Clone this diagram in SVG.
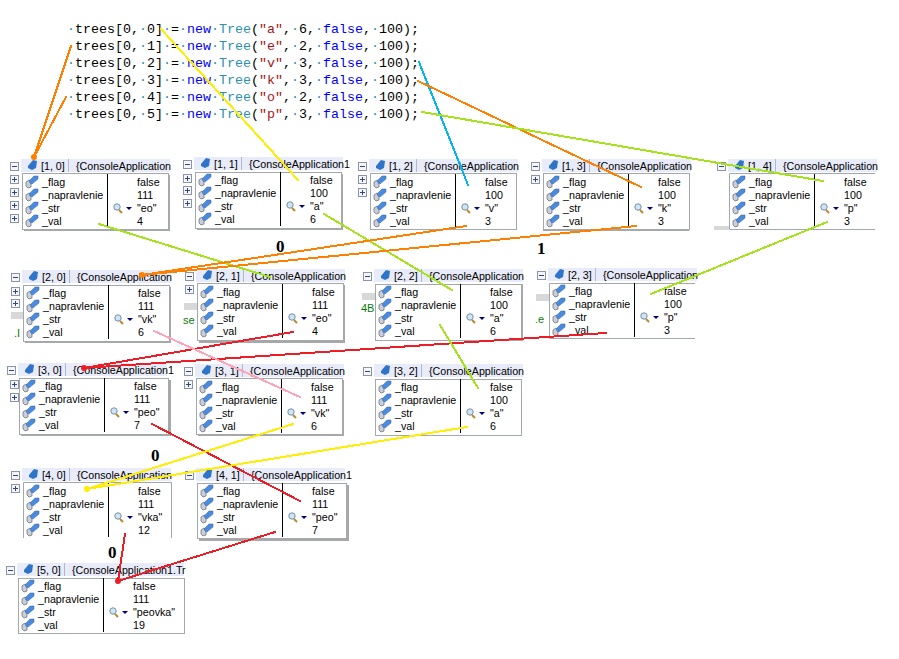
<svg xmlns="http://www.w3.org/2000/svg" width="899" height="659" viewBox="0 0 899 659">
<style>
text{font-family:"Liberation Sans",Arial,sans-serif;font-size:10.7px;fill:#000}
.c{font-family:"Liberation Mono","Courier New",monospace;font-size:13.33px;white-space:pre}
.d{fill:#2b91af}.k{fill:#0000ff}.y{fill:#2b91af}.s{fill:#a31515}
.b{fill:#fff;stroke:#a3a8ae;stroke-width:1}
.o{fill:none;stroke:#a3a8ae;stroke-width:1}
.sh{fill:#a8a8a8}
.bar{fill:#d8d8d8}
.g{fill:#0a7a0a;font-size:11px}
.n{font-family:"Liberation Serif","Times New Roman",serif;font-size:17px;font-weight:bold}
.l{fill:none;stroke-linecap:round;shape-rendering:crispEdges}
.or{stroke:#ff8000;stroke-width:2}.ye{stroke:#ffee00;stroke-width:2}.li{stroke:#a4e21a;stroke-width:2}
.re{stroke:#ee1c25;stroke-width:2}.cy{stroke:#00b4f0;stroke-width:2}.pi{stroke:#ffa3b8;stroke-width:2}
</style>
<defs>
<symbol id="ic" width="14" height="13" overflow="visible">
<path d="M1 7L4 5L6 6.500L6 12L3 13L1 11Z" fill="#c9ced8" stroke="#5e6470" stroke-width=".7"/>
<path d="M4 6L9 1L13 1L13 4L7 9L5 8Z" fill="#4a8be0" stroke="#3a5f9a" stroke-width=".5"/>
</symbol>
<symbol id="plus" width="9" height="9" overflow="visible">
<rect x=".5" y=".5" width="8" height="8" fill="#f4f6fb" stroke="#8a94a6"/>
<path d="M2 4.5H7M4.5 2V7" stroke="#31487a"/>
</symbol>
<symbol id="minus" width="9" height="9" overflow="visible">
<rect x=".5" y=".5" width="8" height="8" fill="#f4f6fb" stroke="#8a94a6"/>
<path d="M2 4.5H7" stroke="#31487a"/>
</symbol>
<g id="frame">
<rect x="-1" y="-14" width="149" height="13" fill="#e8ebf9"/>
<use href="#minus" x="-12" y="-11"/>
<path d="M6 -7 L11 -13 L15 -12 L14 -5 L10 -3 L6 -5Z" fill="#2f74c8"/>
<path d="M46.5 -14V-1" stroke="#b5b8c4"/>
</g>
<g id="rows">
<use href="#ic" x="3" y="2"/><use href="#ic" x="3" y="15"/><use href="#ic" x="3" y="28"/><use href="#ic" x="3" y="41"/>
<path d="M85.5 1V55" stroke="#000"/>
<circle cx="95" cy="34" r="3.200" fill="#cfe4f4" stroke="#7890a8"/><path d="M97 37L100 40" stroke="#b98a2a" stroke-width="2"/>
<path d="M104 34H110L107 37Z" fill="#000080"/>
</g>
</defs>

<g id="code">
<text class="c" x="67" y="33"><tspan class="d">·</tspan>trees[0,<tspan class="d">·</tspan>0]<tspan class="d">·</tspan>=<tspan class="d">·</tspan><tspan class="k">new</tspan><tspan class="d">·</tspan><tspan class="y">Tree</tspan>(<tspan class="s">"a"</tspan>,<tspan class="d">·</tspan>6,<tspan class="d">·</tspan><tspan class="k">false</tspan>,<tspan class="d">·</tspan>100);</text>
<text class="c" x="67" y="50"><tspan class="d">·</tspan>trees[0,<tspan class="d">·</tspan>1]<tspan class="d">·</tspan>=<tspan class="d">·</tspan><tspan class="k">new</tspan><tspan class="d">·</tspan><tspan class="y">Tree</tspan>(<tspan class="s">"e"</tspan>,<tspan class="d">·</tspan>2,<tspan class="d">·</tspan><tspan class="k">false</tspan>,<tspan class="d">·</tspan>100);</text>
<text class="c" x="67" y="67"><tspan class="d">·</tspan>trees[0,<tspan class="d">·</tspan>2]<tspan class="d">·</tspan>=<tspan class="d">·</tspan><tspan class="k">new</tspan><tspan class="d">·</tspan><tspan class="y">Tree</tspan>(<tspan class="s">"v"</tspan>,<tspan class="d">·</tspan>3,<tspan class="d">·</tspan><tspan class="k">false</tspan>,<tspan class="d">·</tspan>100);</text>
<text class="c" x="67" y="84"><tspan class="d">·</tspan>trees[0,<tspan class="d">·</tspan>3]<tspan class="d">·</tspan>=<tspan class="d">·</tspan><tspan class="k">new</tspan><tspan class="d">·</tspan><tspan class="y">Tree</tspan>(<tspan class="s">"k"</tspan>,<tspan class="d">·</tspan>3,<tspan class="d">·</tspan><tspan class="k">false</tspan>,<tspan class="d">·</tspan>100);</text>
<text class="c" x="67" y="101"><tspan class="d">·</tspan>trees[0,<tspan class="d">·</tspan>4]<tspan class="d">·</tspan>=<tspan class="d">·</tspan><tspan class="k">new</tspan><tspan class="d">·</tspan><tspan class="y">Tree</tspan>(<tspan class="s">"o"</tspan>,<tspan class="d">·</tspan>2,<tspan class="d">·</tspan><tspan class="k">false</tspan>,<tspan class="d">·</tspan>100);</text>
<text class="c" x="67" y="118"><tspan class="d">·</tspan>trees[0,<tspan class="d">·</tspan>5]<tspan class="d">·</tspan>=<tspan class="d">·</tspan><tspan class="k">new</tspan><tspan class="d">·</tspan><tspan class="y">Tree</tspan>(<tspan class="s">"p"</tspan>,<tspan class="d">·</tspan>3,<tspan class="d">·</tspan><tspan class="k">false</tspan>,<tspan class="d">·</tspan>100);</text>
</g>

<g id="n1-0" transform="translate(22,173)"><rect class="sh" x="2" y="2" width="146" height="56"/><use href="#frame"/><use href="#plus" x="-12" y="2"/><use href="#plus" x="-12" y="15"/><use href="#plus" x="-12" y="28"/><use href="#plus" x="-12" y="41"/><rect class="b" x=".5" y=".5" width="146" height="56"/><use href="#rows"/><text x="19" y="-3">[1, 0]</text><text x="54" y="-3">{ConsoleApplication</text><text x="20" y="13">_flag</text><text x="20" y="26">_napravlenie</text><text x="20" y="39">_str</text><text x="20" y="52">_val</text><text x="115" y="13">false</text><text x="115" y="26">111</text><text x="115" y="39">"eo"</text><text x="115" y="52">4</text></g>

<g id="n1-1" transform="translate(195,171)"><rect class="sh" x="2" y="3" width="146" height="56"/><use href="#frame"/><use href="#plus" x="-12" y="3"/><use href="#plus" x="-12" y="15"/><use href="#plus" x="-12" y="28"/><rect class="b" x=".5" y="1.5" width="146" height="56"/><use href="#rows"/><text x="19" y="-3">[1, 1]</text><text x="54" y="-3">{ConsoleApplication1</text><text x="20" y="13">_flag</text><text x="20" y="26">_napravlenie</text><text x="20" y="39">_str</text><text x="20" y="52">_val</text><text x="115" y="13">false</text><text x="115" y="26">100</text><text x="115" y="39">"a"</text><text x="115" y="52">6</text></g>

<g id="n1-2" transform="translate(370,173)"><use href="#frame"/><use href="#plus" x="-12" y="2"/><use href="#plus" x="-12" y="15"/><rect class="b" x=".5" y=".5" width="146" height="56"/><use href="#rows"/><text x="19" y="-3">[1, 2]</text><text x="54" y="-3">{ConsoleApplication</text><text x="20" y="13">_flag</text><text x="20" y="26">_napravlenie</text><text x="20" y="39">_str</text><text x="20" y="52">_val</text><text x="115" y="13">false</text><text x="115" y="26">100</text><text x="115" y="39">"v"</text><text x="115" y="52">3</text></g>

<g id="n1-3" transform="translate(543,173)"><rect class="sh" x="0" y="2" width="146" height="56"/><use href="#frame"/><use href="#plus" x="-12" y="2"/><rect class="b" x=".5" y=".5" width="146" height="56"/><use href="#rows"/><text x="19" y="-3">[1, 3]</text><text x="54" y="-3">{ConsoleApplication</text><text x="20" y="13">_flag</text><text x="20" y="26">_napravlenie</text><text x="20" y="39">_str</text><text x="20" y="52">_val</text><text x="115" y="13">false</text><text x="115" y="26">100</text><text x="115" y="39">"k"</text><text x="115" y="52">3</text></g>

<g id="n1-4" transform="translate(729,173)"><rect class="bar" x="-15" y="53" width="15" height="4"/><use href="#frame"/><path class="o" d="M146 .5H.5V56.500H146"/><use href="#rows"/><text x="19" y="-3">[1, 4]</text><text x="54" y="-3">{ConsoleApplication</text><text x="20" y="13">_flag</text><text x="20" y="26">_napravlenie</text><text x="20" y="39">_str</text><text x="20" y="52">_val</text><text x="115" y="13">false</text><text x="115" y="26">100</text><text x="115" y="39">"p"</text><text x="115" y="52">3</text></g>

<g id="n2-0" transform="translate(23,284)"><rect class="bar" x="-12" y="28" width="14" height="7"/><text class="g" x="-9" y="53">.I</text><rect class="sh" x="2" y="3" width="146" height="56"/><use href="#frame"/><use href="#plus" x="-12" y="3"/><use href="#plus" x="-12" y="15"/><rect class="b" x=".5" y="1.5" width="146" height="56"/><use href="#rows"/><text x="19" y="-3">[2, 0]</text><text x="54" y="-3">{ConsoleApplication</text><text x="20" y="13">_flag</text><text x="20" y="26">_napravlenie</text><text x="20" y="39">_str</text><text x="20" y="52">_val</text><text x="115" y="13">false</text><text x="115" y="26">111</text><text x="115" y="39">"vk"</text><text x="115" y="52">6</text></g>

<g id="n2-1" transform="translate(197,283)"><rect class="bar" x="-13" y="20" width="14" height="7"/><text class="g" x="-14" y="41">se</text><rect class="sh" x="2" y="2" width="146" height="58"/><use href="#frame"/><use href="#plus" x="-12" y="2"/><rect class="b" x=".5" y=".5" width="146" height="57"/><use href="#rows"/><text x="19" y="-3">[2, 1]</text><text x="54" y="-3">{ConsoleApplication</text><text x="20" y="13">_flag</text><text x="20" y="26">_napravlenie</text><text x="20" y="39">_str</text><text x="20" y="52">_val</text><text x="115" y="13">false</text><text x="115" y="26">111</text><text x="115" y="39">"eo"</text><text x="115" y="52">4</text></g>

<g id="n2-2" transform="translate(375,283)"><rect class="bar" x="-13" y="10" width="14" height="7"/><text class="g" x="-14" y="29">4B</text><rect class="sh" x="2" y="1" width="146" height="57"/><use href="#frame"/><rect class="b" x=".5" y="1.5" width="146" height="56"/><use href="#rows"/><text x="19" y="-3">[2, 2]</text><text x="54" y="-3">{ConsoleApplication</text><text x="20" y="13">_flag</text><text x="20" y="26">_napravlenie</text><text x="20" y="39">_str</text><text x="20" y="52">_val</text><text x="115" y="13">false</text><text x="115" y="26">100</text><text x="115" y="39">"a"</text><text x="115" y="52">6</text></g>

<g id="n2-3" transform="translate(549,282)"><rect class="bar" x="-13" y="12" width="14" height="7"/><text class="g" x="-14" y="41">.e</text><use href="#frame"/><path class="o" d="M146 1.500H.5V56.500H146"/><use href="#rows"/><text x="19" y="-3">[2, 3]</text><text x="54" y="-3">{ConsoleApplication</text><text x="20" y="13">_flag</text><text x="20" y="26">_napravlenie</text><text x="20" y="39">_str</text><text x="20" y="52">_val</text><text x="115" y="13">false</text><text x="115" y="26">100</text><text x="115" y="39">"p"</text><text x="115" y="52">3</text></g>

<g id="n3-0" transform="translate(19,377)"><rect class="sh" x="2" y="3" width="150" height="56"/><use href="#frame"/><use href="#plus" x="-9" y="3"/><use href="#plus" x="-9" y="16"/><rect class="b" x=".5" y="1.5" width="149" height="56"/><use href="#rows"/><text x="19" y="-3">[3, 0]</text><text x="54" y="-3">{ConsoleApplication1</text><text x="20" y="13">_flag</text><text x="20" y="26">_napravlenie</text><text x="20" y="39">_str</text><text x="20" y="52">_val</text><text x="115" y="13">false</text><text x="115" y="26">111</text><text x="115" y="39">"peo"</text><text x="115" y="52">7</text></g>

<g id="n3-1" transform="translate(196,378)"><rect class="sh" x="2" y="2" width="146" height="56"/><use href="#frame"/><use href="#plus" x="-12" y="2"/><rect class="b" x=".5" y=".5" width="146" height="56"/><use href="#rows"/><text x="19" y="-3">[3, 1]</text><text x="54" y="-3">{ConsoleApplication</text><text x="20" y="13">_flag</text><text x="20" y="26">_napravlenie</text><text x="20" y="39">_str</text><text x="20" y="52">_val</text><text x="115" y="13">false</text><text x="115" y="26">111</text><text x="115" y="39">"vk"</text><text x="115" y="52">6</text></g>

<g id="n3-2" transform="translate(375,378)"><use href="#frame"/><rect class="b" x=".5" y="1.5" width="146" height="56"/><use href="#rows"/><text x="19" y="-3">[3, 2]</text><text x="54" y="-3">{ConsoleApplication</text><text x="20" y="13">_flag</text><text x="20" y="26">_napravlenie</text><text x="20" y="39">_str</text><text x="20" y="52">_val</text><text x="115" y="13">false</text><text x="115" y="26">100</text><text x="115" y="39">"a"</text><text x="115" y="52">6</text></g>

<g id="n4-0" transform="translate(23,482)"><use href="#frame"/><use href="#plus" x="-12" y="2"/><path class="o" d="M.5 56V.5H148.500V56"/><use href="#rows"/><text x="19" y="-3">[4, 0]</text><text x="54" y="-3">{ConsoleApplication</text><text x="20" y="13">_flag</text><text x="20" y="26">_napravlenie</text><text x="20" y="39">_str</text><text x="20" y="52">_val</text><text x="115" y="13">false</text><text x="115" y="26">111</text><text x="115" y="39">"vka"</text><text x="115" y="52">12</text></g>

<g id="n4-1" transform="translate(197,482)"><rect class="sh" x="2" y="3" width="150" height="56"/><use href="#frame"/><rect class="b" x=".5" y="1.5" width="149" height="55"/><use href="#rows"/><text x="19" y="-3">[4, 1]</text><text x="54" y="-3">{ConsoleApplication1</text><text x="20" y="13">_flag</text><text x="20" y="26">_napravlenie</text><text x="20" y="39">_str</text><text x="20" y="52">_val</text><text x="115" y="13">false</text><text x="115" y="26">111</text><text x="115" y="39">"peo"</text><text x="115" y="52">7</text></g>

<g id="n5-0" transform="translate(18,577)"><rect x="-1" y="-14" width="167" height="13" fill="#e8ebf9"/><use href="#minus" x="-12" y="-11"/><path d="M6 -7 L11 -13 L15 -12 L14 -5 L10 -3 L6 -5Z" fill="#2f74c8"/><path d="M46.5 -14V-1" stroke="#b5b8c4"/><rect class="b" x=".5" y="1.5" width="166" height="55"/><use href="#rows"/><text x="19" y="-3">[5, 0]</text><text x="54" y="-3">{ConsoleApplication1.Tr</text><text x="20" y="13">_flag</text><text x="20" y="26">_napravlenie</text><text x="20" y="39">_str</text><text x="20" y="52">_val</text><text x="115" y="13">false</text><text x="115" y="26">111</text><text x="115" y="39">"peovka"</text><text x="115" y="52">19</text></g>

<g id="connectors">
<path class="l or" d="M71 46L34 157M66 97L34 157"/>
<circle cx="34" cy="157" r="3" fill="#ff8000"/>
<path class="l ye" d="M161 29L298 180"/>
<path class="l cy" d="M419 62L468 185"/>
<path class="l or" d="M418 81L641 187"/>
<path class="l li" d="M422 112L823 181"/>
<path class="l li" d="M99 224L270 277M324 214L452 290"/>
<path class="l or" d="M466 226L142 275M636 226L142 275"/>
<circle cx="142" cy="275" r="3" fill="#ff8000"/>
<path class="l li" d="M827 222L651 294"/>
<path class="l re" d="M293 332L84 368M606 333L84 368"/>
<circle cx="84" cy="368" r="3" fill="#ee1c25"/>
<path class="l pi" d="M154 331L300 397"/>
<path class="l li" d="M440 325L478 388"/>
<path class="l re" d="M152 424L300 501"/>
<path class="l ye" d="M293 424L87 489M467 427L87 489"/>
<circle cx="87" cy="489" r="3" fill="#ffee00"/>
<path class="l re" d="M125 534L118 581M275 532L118 581"/>
<circle cx="118" cy="581" r="3" fill="#ee1c25"/>
</g>
<g id="labels">
<text class="n" x="276" y="252">0</text>
<text class="n" x="537" y="254">1</text>
<text class="n" x="151" y="461">0</text>
<text class="n" x="108" y="558">0</text>
</g>
</svg>
